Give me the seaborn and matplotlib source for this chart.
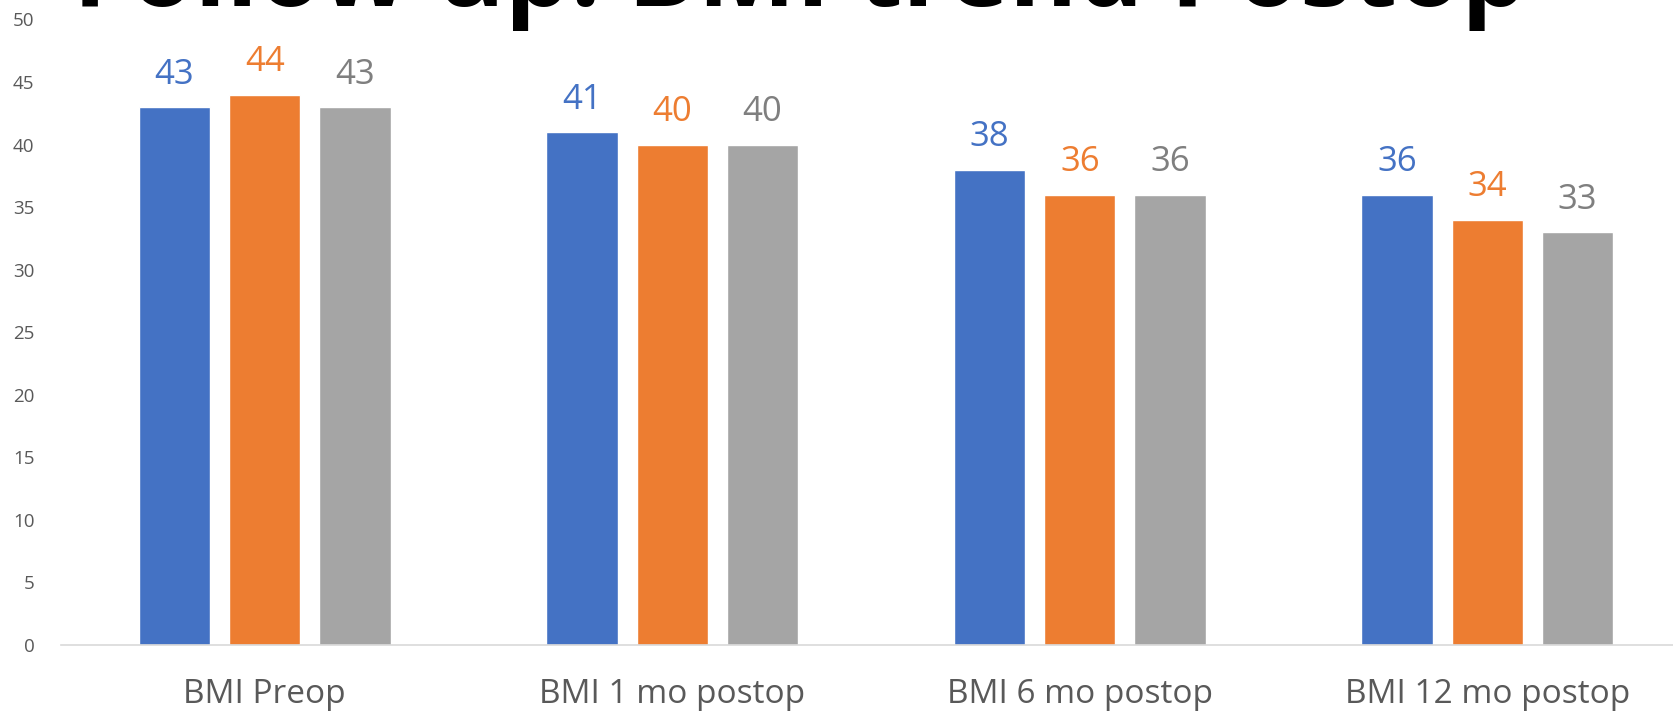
import pandas as pd
import seaborn as sns
import matplotlib.pyplot as plt

# dados
categorias = ["BMI Preop", "BMI 1 mo postop", "BMI 6 mo postop", "BMI 12 mo postop"]
serie_1 = [43, 41, 38, 36]
serie_2 = [44, 40, 36, 34]
serie_3 = [43, 40, 36, 33]
nomes_series = ["Series 1", "Series 2", "Series 3"]

cores_barras = ["#4472C4", "#ED7D31", "#A5A5A5"]
cores_rotulos = ["#4472C4", "#ED7D31", "#7F7F7F"]

df = pd.DataFrame({
    "categoria": categorias * 3,
    "bmi": serie_1 + serie_2 + serie_3,
    "serie": [n for n in nomes_series for _ in categorias],
})

sns.set_style("white")
plt.rcParams["font.family"] = ["Open Sans", "DejaVu Sans"]

fig = plt.figure(figsize=(16.73, 7.14), dpi=100)
ax = fig.add_axes([61 / 1673, 69 / 714, 1630 / 1673, 625.5 / 714])

sns.barplot(data=df, x="categoria", y="bmi", hue="serie", order=categorias,
            hue_order=nomes_series, palette=cores_barras, width=0.664, gap=0.21,
            saturation=1, errorbar=None, legend=False, ax=ax)

for cont, cor in zip(ax.containers, cores_rotulos):
    ax.bar_label(cont, fmt="%d", padding=11, color=cor, fontsize=25)

ax.set_ylim(0, 50)
ax.set_yticks(range(0, 51, 5))
ax.set_xlabel("")
ax.set_ylabel("")
ax.tick_params(axis="y", length=0, pad=19, labelsize=13.5, labelcolor="#595959")
ax.tick_params(axis="x", length=0, pad=24, labelsize=24, labelcolor="#595959")
for lado in ["left", "right", "top"]:
    ax.spines[lado].set_visible(False)
ax.spines["bottom"].set_color("#D9D9D9")
ax.spines["bottom"].set_linewidth(1.2)

# título grande, cortado no topo como no original
fig.text(73 / 1673, (714 - 6) / 714, "Follow up: BMI trend Postop", fontsize=75,
         fontweight="bold", color="black", ha="left", va="baseline")

fig.savefig("out.png", dpi=100)
